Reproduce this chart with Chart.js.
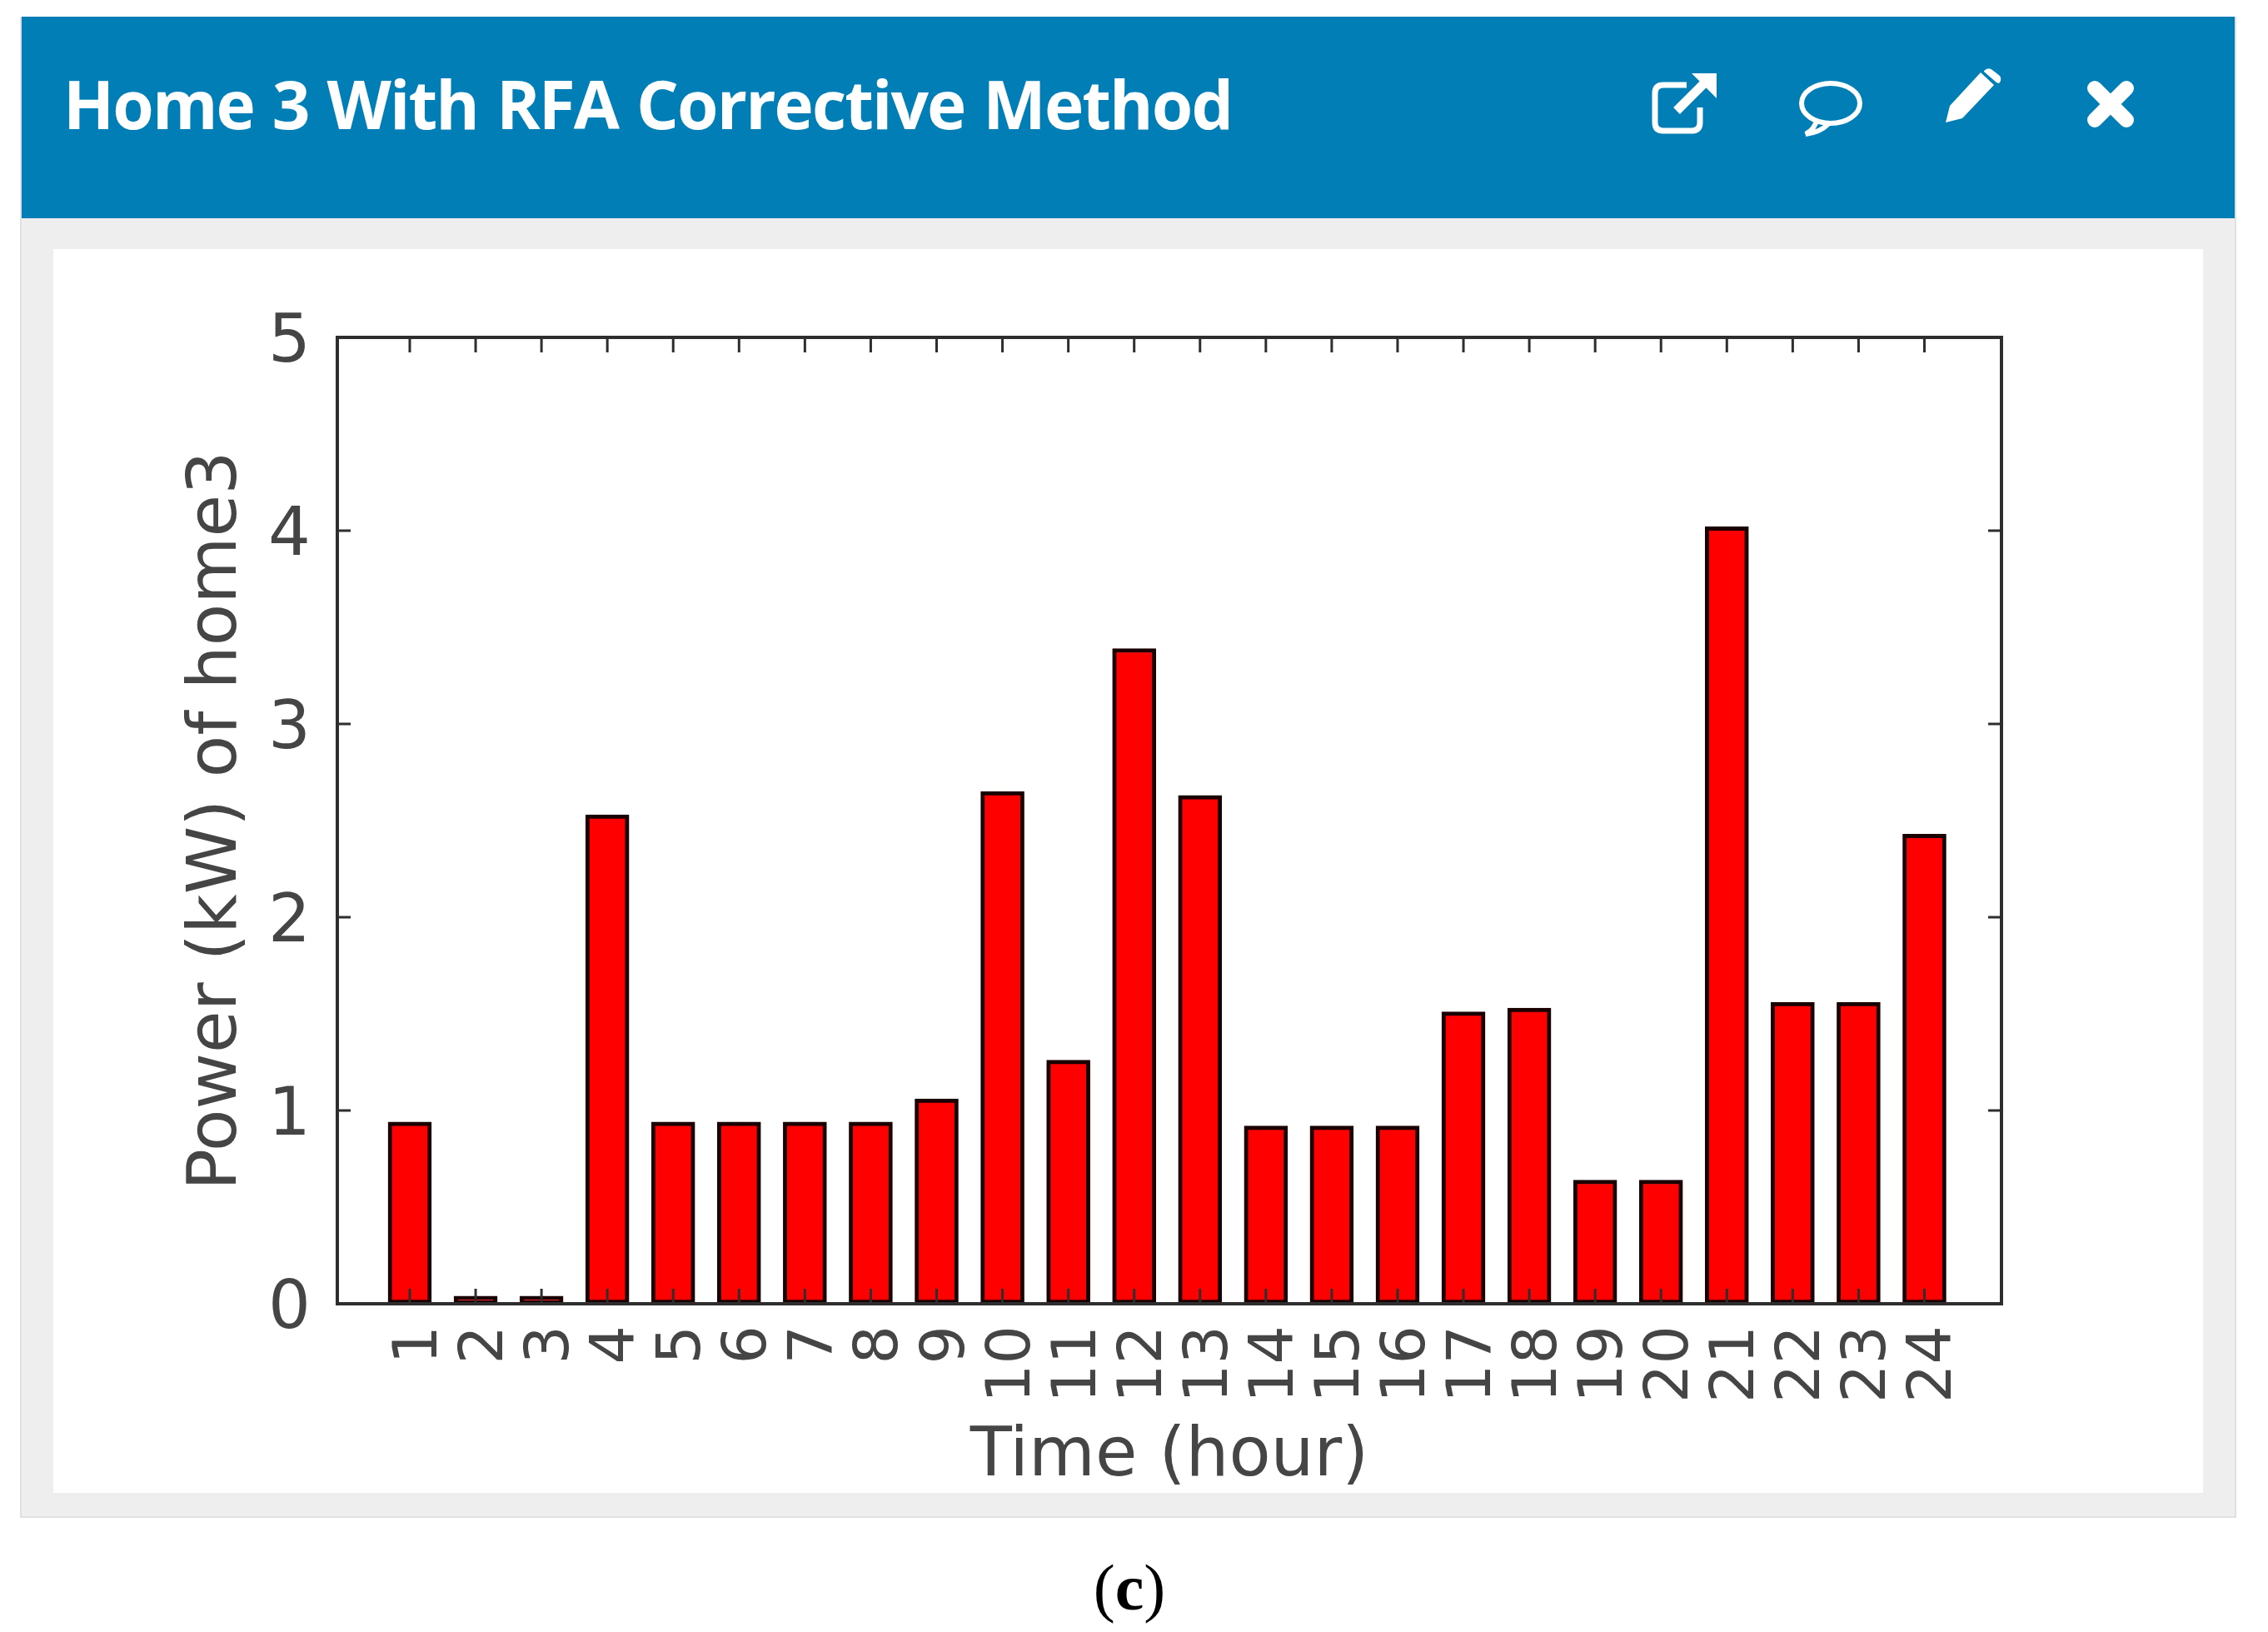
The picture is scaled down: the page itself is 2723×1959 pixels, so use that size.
<!DOCTYPE html>
<html>
<head>
<meta charset="utf-8">
<title>Home 3 With RFA Corrective Method</title>
<script src="https://cdn.jsdelivr.net/npm/chart.js@4/dist/chart.umd.min.js"></script>
<style>
    html, body { margin: 0; padding: 0; background: #fff; }
    #page { position: relative; width: 2723px; height: 1959px; overflow: hidden; }
    #panel { position: absolute; left: 24px; top: 20px; width: 2657px; height: 1800px; background: #eee; border: 2px solid #e0e0e0; border-top: 0; }
    #header { position: absolute; left: 26px; top: 20px; width: 2657px; height: 242px; background: #007eb5; }
    #title { position: absolute; left: 50px; top: 49px; color: #fff; font: 700 80px "Open Sans", sans-serif; letter-spacing: -1.9px; word-spacing: 3px; white-space: nowrap; line-height: 110px; }
    #plot { position: absolute; left: 64px; top: 299px; width: 2581px; height: 1493px; background: #fff; }
    #caption { position: absolute; left: 0; width: 2712px; top: 1861px; text-align: center; font: 78px "Liberation Serif", serif; color: #000; }
    .hour-label { position: absolute; font: 73px/1 "DejaVu Sans", sans-serif; color: #454545; white-space: nowrap; transform-origin: 100% 50%; transform: translate(-100%, -50%) rotate(-90deg); }
    svg { position: absolute; }
</style>
</head>
<body>
<div id="page">
    <div id="panel"></div>
    <div id="header">
        <div id="title">Home 3 With RFA Corrective Method</div>
        <!-- icones de la barre -->
        <svg style="left:1957px;top:65px" width="80" height="76" viewBox="0 0 80 76" fill="none" stroke="#fff" stroke-width="7">
            <path d="M42 17H14Q4 17 4 27V62Q4 72 14 72H48Q58 72 58 62V44"/>
            <path d="M30 48L70 8" stroke-width="11"/>
            <path d="M48 3H78V33Z" fill="#fff" stroke="none"/>
        </svg>
        <svg style="left:2133px;top:77px" width="78" height="68" viewBox="0 0 78 68" fill="none" stroke="#fff" stroke-width="6">
            <ellipse cx="39" cy="27" rx="35" ry="24"/>
            <path d="M22 47Q20 58 9 64Q26 62 36 52"/>
        </svg>
        <svg style="left:2308px;top:61px" width="70" height="68" viewBox="0 0 70 68" fill="#fff">
            <path d="M2 66L7 46L44 6L60 21L22 61Z"/>
            <path d="M48 4Q53 -1 58 3L67 10Q70 15 66 19L63 18L48 5Z"/>
        </svg>
        <svg style="left:2480px;top:77px" width="56" height="56" viewBox="0 0 56 56" stroke="#fff" stroke-width="18" stroke-linecap="round">
            <path d="M9 9L47 47M47 9L9 47"/>
        </svg>
    </div>
    <div id="plot"><canvas id="chart" width="2581" height="1493"></canvas></div>
    <div id="caption">(<b>c</b>)</div>
</div>

<script>
const hours = [1, 2, 3, 4, 5, 6, 7, 8, 9, 10, 11, 12, 13, 14, 15, 16, 17, 18, 19, 20, 21, 22, 23, 24];
const powerValues = [0.94, 0.04, 0.04, 2.53, 0.94, 0.94, 0.94, 0.94, 1.06, 2.65, 1.26, 3.39, 2.63, 0.92, 0.92, 0.92, 1.51, 1.53, 0.64, 0.64, 4.02, 1.56, 1.56, 2.43];
const yTicks = [0, 1, 2, 3, 4, 5];
const xTitle = 'Time (hour)';
const yTitle = 'Power (kW) of home3';

const textColor = '#454545';
const frameColor = '#2e2e2e';

// cadre et graduations vers l'interieur, par-dessus les barres
const framePlugin = {
    id: 'frame',
    afterDatasetsDraw(chart) {
        const { ctx, chartArea: a, scales } = chart;
        ctx.save();
        ctx.strokeStyle = frameColor;
        ctx.lineWidth = 4;
        ctx.strokeRect(a.left, a.top, a.right - a.left, a.bottom - a.top);
        ctx.lineWidth = 3;
        ctx.beginPath();
        hours.forEach(h => {
            const x = scales.x.getPixelForValue(h);
            ctx.moveTo(x, a.bottom);
            ctx.lineTo(x, a.bottom - 18);
            ctx.moveTo(x, a.top);
            ctx.lineTo(x, a.top + 18);
        });
        yTicks.forEach(v => {
            const y = scales.y.getPixelForValue(v);
            ctx.moveTo(a.left, y);
            ctx.lineTo(a.left + 16, y);
            ctx.moveTo(a.right, y);
            ctx.lineTo(a.right - 16, y);
        });
        ctx.stroke();
        ctx.restore();
    }
};

const chart = new Chart(document.getElementById('chart'), {
    type: 'bar',
    data: {
        datasets: [{
            data: hours.map((h, i) => ({ x: h, y: powerValues[i] })),
            backgroundColor: '#ff0000',
            borderColor: '#1a0000',
            borderWidth: 5,
            borderSkipped: false,
            barThickness: 52
        }]
    },
    options: {
        responsive: false,
        animation: false,
        devicePixelRatio: 1,
        layout: { padding: { top: 106, right: 242 } },
        plugins: { legend: { display: false }, tooltip: { enabled: false } },
        scales: {
            x: {
                type: 'linear',
                offset: false,
                min: -0.1,
                max: 25.17,
                grid: { display: false },
                border: { display: false },
                afterBuildTicks: (scale) => { scale.ticks = hours.map(h => ({ value: h })); },
                afterFit: (scale) => { scale.height = 227; },
                ticks: { display: false },
                title: {
                    display: true,
                    text: xTitle,
                    color: textColor,
                    padding: { top: 0, bottom: -7 },
                    font: { family: 'DejaVu Sans', size: 82 }
                }
            },
            y: {
                min: 0,
                max: 5,
                grid: { display: false },
                border: { display: false },
                afterBuildTicks: (scale) => { scale.ticks = yTicks.map(v => ({ value: v })); },
                afterFit: (scale) => { scale.width = 341; },
                ticks: {
                    padding: 24,
                    labelOffset: 8,
                    color: textColor,
                    font: { family: 'DejaVu Sans', size: 80 }
                },
                title: {
                    display: true,
                    text: yTitle,
                    color: textColor,
                    padding: { top: 148, bottom: 0 },
                    font: { family: 'DejaVu Sans', size: 82.5 }
                }
            }
        }
    },
    plugins: [framePlugin]
});

// etiquettes de l'axe x en HTML, placees par l'echelle : dans le canvas les deux chiffres etaient coupes
hours.forEach(h => {
    const label = document.createElement('span');
    label.className = 'hour-label';
    label.textContent = h;
    label.style.left = (chart.scales.x.getPixelForValue(h) + 6) + 'px';
    label.style.top = (chart.chartArea.bottom + 26) + 'px';
    document.getElementById('plot').appendChild(label);
});
</script>
</body>
</html>
